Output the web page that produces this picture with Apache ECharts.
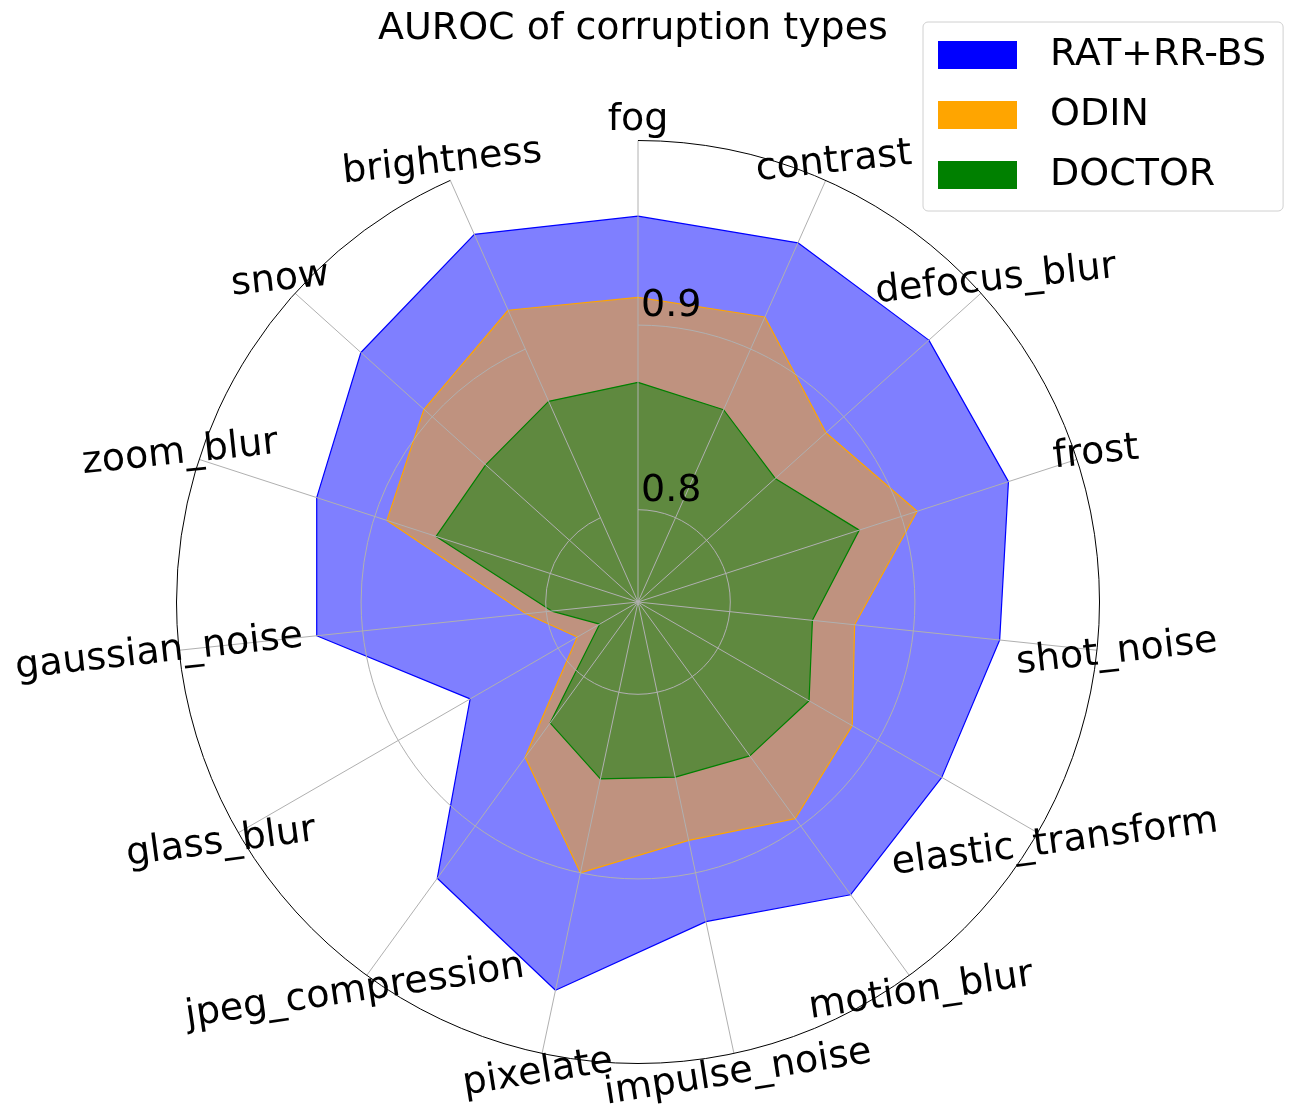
<!DOCTYPE html>
<html>
<head>
<meta charset="utf-8">
<title>AUROC of corruption types</title>
<script src="https://cdn.jsdelivr.net/npm/echarts@6/dist/echarts.min.js"></script>
<style>
  html, body { margin: 0; padding: 0; background: #fff; }
  #chart { width: 1293px; height: 1116px; }
</style>
</head>
<body>
<div id="chart"></div>
<script>
// categories go clockwise starting at the top
const categories = ['fog', 'contrast', 'defocus_blur', 'frost', 'shot_noise', 'elastic_transform',
  'motion_blur', 'impulse_noise', 'pixelate', 'jpeg_compression', 'glass_blur', 'gaussian_noise',
  'zoom_blur', 'snow', 'brightness']
const seriesNames = ['RAT+RR-BS', 'ODIN', 'DOCTOR']
const ratValues = [0.959, 0.963, 0.962, 0.961, 0.947, 0.940, 0.946, 0.927, 0.965, 0.935, 0.855, 0.925, 0.933, 0.952, 0.968]
const odinValues = [0.915, 0.919, 0.887, 0.909, 0.868, 0.884, 0.895, 0.882, 0.900, 0.854, 0.788, 0.811, 0.893, 0.906, 0.923]
const doctorValues = [0.869, 0.864, 0.850, 0.876, 0.845, 0.857, 0.853, 0.847, 0.848, 0.831, 0.774, 0.797, 0.865, 0.861, 0.869]
const radiusTicks = [0.8, 0.9]
const radiusMin = 0.75
const radiusMax = 1.0

const FONT = 'DejaVu Sans'
const FONT_SIZE = 38
const colors = ['#0000ff', '#ffa500', '#008000']
const LABEL_PAD = 20
const CENTER = [638, 602]
const RADIUS = 461.5

const chart = echarts.init(document.getElementById('chart'))

// radar indicators run counter-clockwise, so keep the first one on top and reverse the rest
const radarOrder = [0].concat(categories.map((c, i) => i).slice(1).reverse())

const allValues = [ratValues, odinValues, doctorValues]

const option = {
  animation: false,
  backgroundColor: '#ffffff',
  title: {
    text: 'AUROC of corruption types',
    left: 373,
    top: 5,
    textStyle: { fontFamily: FONT, fontSize: FONT_SIZE, fontWeight: 'normal', color: '#000' }
  },
  legend: {
    orient: 'vertical',
    left: 923,
    top: 22,
    padding: [14, 17, 17, 15],
    itemWidth: 79,
    itemHeight: 28,
    itemGap: 22,
    icon: 'rect',
    backgroundColor: '#ffffff',
    borderColor: '#d0d0d0',
    borderWidth: 1,
    borderRadius: 5,
    data: seriesNames.map((n, k) => ({ name: n, itemStyle: { color: colors[k], opacity: 1 } })),
    textStyle: {
      fontFamily: FONT, fontSize: FONT_SIZE, color: '#000',
      lineHeight: 36, padding: [0, 0, 0, 28]
    }
  },
  // polar only carries the grid: spokes, rings, outer circle, radius labels
  polar: {
    center: CENTER,
    radius: RADIUS
  },
  angleAxis: {
    type: 'category',
    data: categories,
    boundaryGap: false,
    startAngle: 90,
    clockwise: true,
    z: 10,
    axisLine: { show: true, lineStyle: { color: '#000', width: 1 } },
    axisTick: { show: false },
    axisLabel: { show: false },
    splitLine: { show: true, lineStyle: { color: '#b0b0b0', width: 1 } },
    splitArea: { show: false }
  },
  radiusAxis: {
    type: 'value',
    min: radiusMin,
    max: radiusMax,
    interval: 0.05,
    z: 10,
    axisLine: { show: false },
    axisTick: { show: false },
    axisLabel: {
      show: true,
      formatter: function (v) {
        return radiusTicks.some(t => Math.abs(t - v) < 1e-9) ? v.toFixed(1) : ''
      },
      fontFamily: FONT,
      fontSize: FONT_SIZE,
      color: '#000',
      align: 'left',
      verticalAlign: 'bottom',
      margin: -3
    },
    splitLine: {
      show: true,
      // ticks: 0.75, 0.8, 0.85, 0.9, 0.95, 1.0 -> only 0.8 and 0.9 drawn
      lineStyle: { color: ['transparent', '#b0b0b0', 'transparent', '#b0b0b0', 'transparent', 'transparent'], width: 1 }
    }
  },
  // radar draws the closed polygons on the same centre / radius
  radar: {
    center: CENTER,
    radius: RADIUS,
    startAngle: 90,
    shape: 'circle',
    splitNumber: 5,
    indicator: radarOrder.map(i => ({ name: categories[i], min: radiusMin, max: radiusMax })),
    axisName: { show: false },
    axisLine: { show: false },
    axisTick: { show: false },
    axisLabel: { show: false },
    splitLine: { show: false },
    splitArea: { show: false }
  },
  series: allValues.map((vals, k) => ({
    name: seriesNames[k],
    type: 'radar',
    z: 2 + k,
    symbol: 'none',
    lineStyle: { color: colors[k], width: 1.2 },
    itemStyle: { color: colors[k] },
    areaStyle: { color: colors[k], opacity: 0.5 },
    data: [{ name: seriesNames[k], value: radarOrder.map(i => vals[i]) }]
  }))
}

chart.setOption(option)

// category labels, centred just outside the outer circle and slightly tilted
const center = chart.convertToPixel({ polarIndex: 0 }, [radiusMin, 0]) || CENTER
const labelGraphics = categories.map((name, i) => {
  const theta = i * 2 * Math.PI / categories.length
  let p = chart.convertToPixel({ polarIndex: 0 }, [radiusMax, i])
  if (!p) {
    p = [center[0] + RADIUS * Math.sin(theta), center[1] - RADIUS * Math.cos(theta)]
  }
  const dx = p[0] - center[0]
  const dy = p[1] - center[1]
  const len = Math.sqrt(dx * dx + dy * dy)
  const k = (len + LABEL_PAD) / len
  const rot = i === 0 ? 0 : 6 + 3 * Math.max(0, -Math.cos(theta))
  return {
    type: 'text',
    x: center[0] + dx * k,
    y: center[1] + dy * k,
    rotation: rot * Math.PI / 180,
    z: 20,
    style: {
      text: name,
      font: FONT_SIZE + 'px "' + FONT + '"',
      fill: '#000',
      align: 'center',
      textAlign: 'center',
      verticalAlign: 'middle',
      textVerticalAlign: 'middle'
    }
  }
})
chart.setOption({ graphic: labelGraphics })
</script>
</body>
</html>
